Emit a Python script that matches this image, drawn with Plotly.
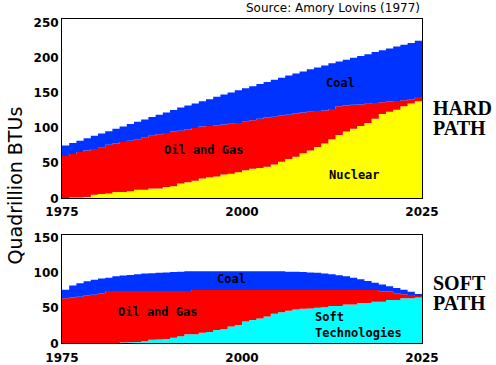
import plotly.graph_objects as go

# ---------------- data ----------------
years = list(range(1975, 2026))

hard_nuclear = [0, 1, 1, 2, 5, 6, 7, 9, 9, 10,
                12, 12, 14, 14, 16, 17, 21, 23, 25, 28,
                30, 31, 34, 35, 37, 40, 42, 43, 45, 48,
                52, 56, 59, 64, 68, 73, 78, 84, 90, 95,
                99, 103, 107, 113, 120, 123, 126, 131, 135, 138,
                139]
hard_oil_gas = [60, 62, 65, 66, 65, 66, 69, 69, 71, 72,
                72, 74, 75, 77, 77, 78, 75, 75, 75, 74,
                73, 73, 71, 71, 70, 69.5, 69, 70, 70, 68,
                66, 63, 61.5, 58, 55, 51, 47, 43, 41, 37,
                34, 30.5, 27.5, 22.5, 16.5, 14.5, 12.5, 8.5, 6, 6,
                5]
hard_coal = [15, 15.5, 16, 17.5, 19, 20, 19.5, 21, 22, 23.5,
             25, 26, 26.5, 28, 29, 30.5, 33, 34, 35, 36,
             38, 40.5, 42.5, 44.5, 46.5, 47, 48.5, 49.5, 50.5, 52.5,
             53.5, 55.5, 57, 58.5, 60.5, 62, 64, 65, 63.5, 65,
             67, 69, 70.5, 72.5, 74, 75.5, 77.5, 79, 80, 80,
             83]

soft_tech = [0, 0, 0, 0, 0, 0, 0, 0, 1, 1.5,
             2, 3, 5, 5.5, 6, 8, 10, 13, 13, 15,
             16, 19, 20, 24, 26, 31, 33, 35, 38, 42,
             44, 46, 48, 49, 49.5, 50.5, 51, 53, 53, 55,
             55, 57, 57, 59, 59, 61.5, 61.5, 64, 64, 65,
             66]
soft_oil_gas = [64, 65, 66, 68, 69, 71, 74, 74, 73, 72.5,
                72, 71, 69, 68.5, 68, 66, 64, 61, 62.5, 60.5,
                59.5, 56.5, 55.5, 51.5, 49.5, 44.5, 42.5, 40.5, 37.5, 33.5,
                31.5, 29.5, 27.5, 26.5, 26, 25, 24.5, 22.5, 22.5, 20.5,
                20.5, 18.5, 18.5, 16.5, 14.5, 12, 9.5, 5.5, 4.5, 2,
                0]
soft_coal = [12, 17, 19, 20, 21, 21, 19, 21, 22, 23,
             24, 25, 25.5, 26, 26.5, 27, 27.5, 28, 26.5, 26.5,
             26.5, 26.5, 26.5, 26.5, 26.5, 26.5, 26.5, 26.5, 26.5, 26.5,
             26.5, 26, 26, 25.5, 25, 24.5, 23.5, 22.5, 21, 19.5,
             17.5, 15.5, 13, 10.5, 10, 7.5, 7.5, 6.5, 4.5, 3,
             0]

x_ticks = [1975, 2000, 2025]
hard_y_ticks = [0, 50, 100, 150, 200, 250]
soft_y_ticks = [0, 50, 100, 150]

BLUE = "#0033FF"
RED = "#FF0000"
YELLOW = "#FFFF00"
CYAN = "#00FFFF"

W, H = 496, 365


def px(xp):
    return xp / W


def py(yp):
    return 1 - yp / H


fig = go.Figure()


def add_area(y, color, group, xa, ya):
    fig.add_trace(go.Scatter(
        x=years, y=y, mode="lines", stackgroup=group,
        line=dict(width=0, shape="hv", color=color),
        fillcolor=color, xaxis=xa, yaxis=ya,
        hoverinfo="skip", showlegend=False))


add_area(hard_nuclear, YELLOW, "hard", "x", "y")
add_area(hard_oil_gas, RED, "hard", "x", "y")
add_area(hard_coal, BLUE, "hard", "x", "y")

add_area(soft_tech, CYAN, "soft", "x2", "y2")
add_area(soft_oil_gas, RED, "soft", "x2", "y2")
add_area(soft_coal, BLUE, "soft", "x2", "y2")

tickfont = dict(family="DejaVu Sans", size=12, color="black", weight="bold")
axis_common = dict(showgrid=False, zeroline=False, showline=True, mirror=True,
                   linecolor="black", linewidth=1, ticks="", tickfont=tickfont,
                   automargin=False)

xdom = [px(62), px(422)]
fig.update_layout(
    width=W, height=H,
    margin=dict(l=0, r=0, t=0, b=0, pad=0),
    paper_bgcolor="white", plot_bgcolor="white",
    xaxis=dict(domain=xdom, range=[1975, 2025], tickvals=x_ticks, anchor="y",
               ticklabelstandoff=2, **axis_common),
    yaxis=dict(domain=[py(198.3), py(19)], range=[0, 255], tickvals=hard_y_ticks, anchor="x", **axis_common),
    xaxis2=dict(domain=xdom, range=[1975, 2025], tickvals=x_ticks, anchor="y2",
                ticklabelstandoff=3, **axis_common),
    yaxis2=dict(domain=[py(343.3), py(234.7)], range=[0, 154], tickvals=soft_y_ticks, anchor="x2", **axis_common),
)

label_font = dict(family="DejaVu Sans Mono", size=12, color="black", weight="bold")
inside = [
    ("Coal", 2013.7, 164, "x", "y", "center"),
    ("Oil and Gas", 1994.6, 69.3, "x", "y", "center"),
    ("Nuclear", 2015.6, 33.8, "x", "y", "center"),
    ("Coal", 1998.5, 90.6, "x2", "y2", "center"),
    ("Oil and Gas", 1988.2, 44.5, "x2", "y2", "center"),
    ("Soft", 2009.9, 36.6, "x2", "y2", "left"),
    ("Technologies", 2009.9, 14.6, "x2", "y2", "left"),
]
for text, xv, yv, xr, yr, anc in inside:
    fig.add_annotation(text=text, x=xv, y=yv, xref=xr, yref=yr, showarrow=False,
                       xanchor=anc, yanchor="middle", font=label_font)

serif = dict(family="Liberation Serif", size=20, color="black", weight="bold")
for text, yp in [("HARD", 108.5), ("PATH", 128.5), ("SOFT", 282.5), ("PATH", 302.5)]:
    fig.add_annotation(text=text, x=px(431), y=py(yp), xref="paper", yref="paper",
                       showarrow=False, xanchor="left", yanchor="middle", font=serif)

fig.add_annotation(text="Source: Amory Lovins (1977)", x=px(422), y=py(8.5),
                   xref="paper", yref="paper", showarrow=False,
                   xanchor="right", yanchor="middle",
                   font=dict(family="DejaVu Sans", size=12, color="black"))

fig.add_annotation(text="Quadrillion BTUs", x=px(14.5), y=py(186),
                   xref="paper", yref="paper", showarrow=False, textangle=-90,
                   xanchor="center", yanchor="middle",
                   font=dict(family="DejaVu Sans", size=19, color="black"))

# remove the browser's default 8px body margin so the figure fills the window
fig.write_html("out.html", config={"displayModeBar": False},
               post_script="document.body.style.margin='0';")
